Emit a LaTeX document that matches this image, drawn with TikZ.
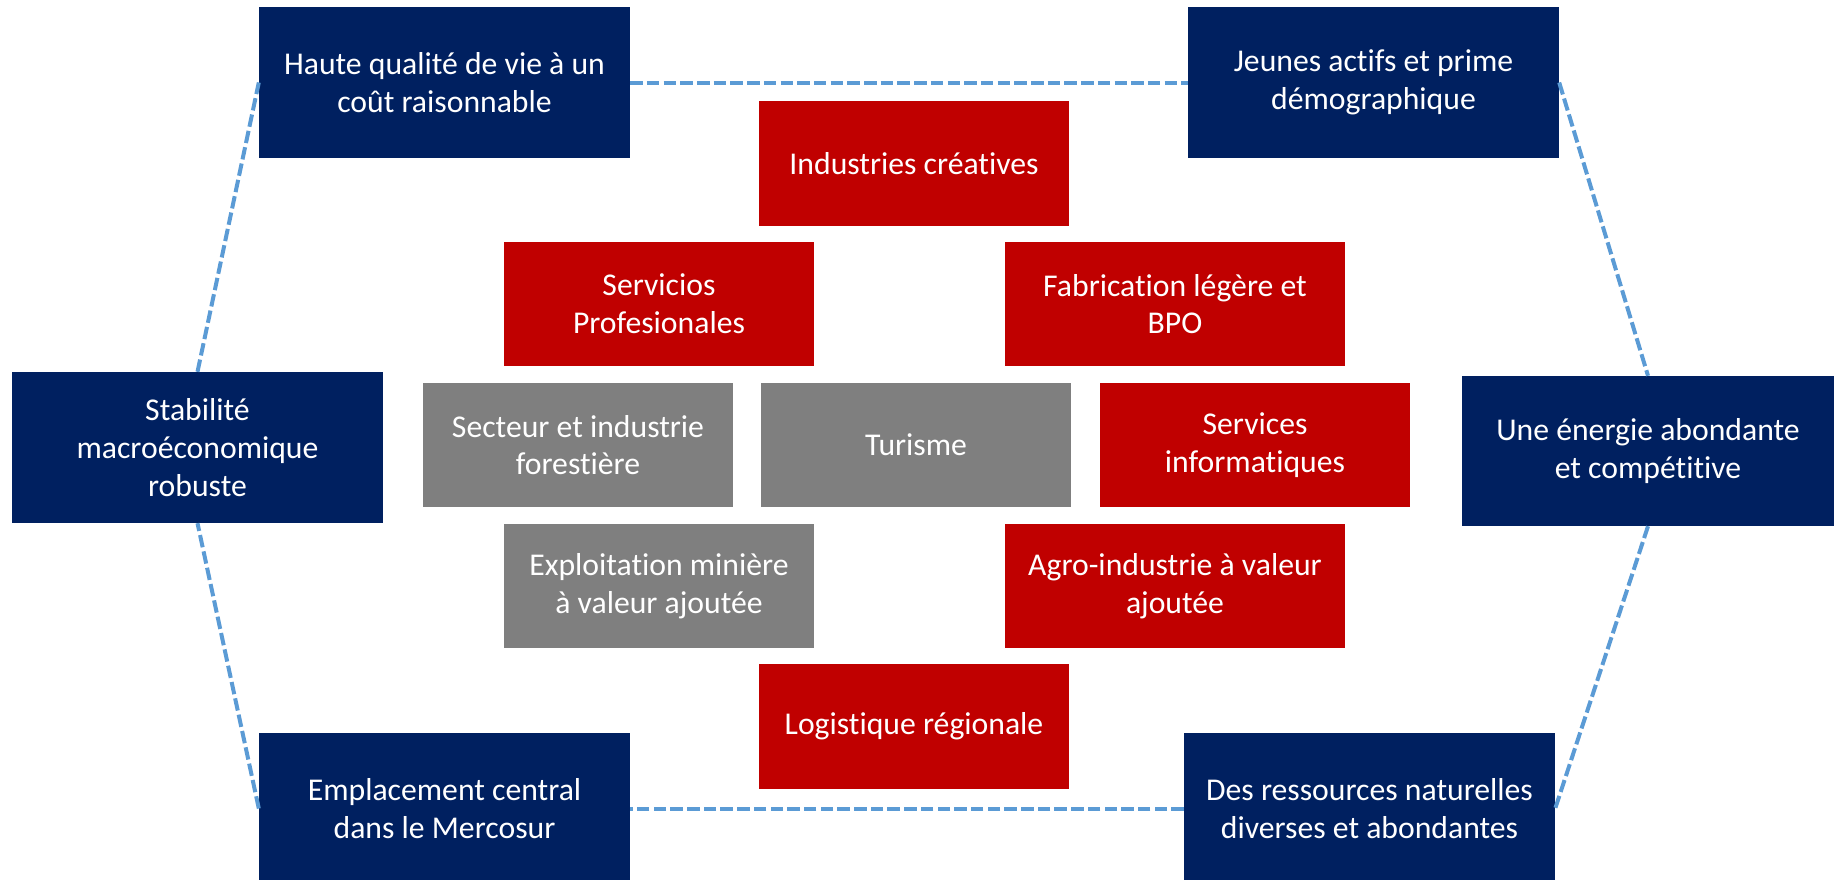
\documentclass[tikz,border=0pt]{standalone}
\usepackage{fontspec}
\setmainfont{Carlito}[RawFeature={-liga;-clig;-calt;-dlig;-rlig}]
\definecolor{navybox}{HTML}{002060}
\definecolor{redbox}{HTML}{C00000}
\definecolor{greybox}{HTML}{7F7F7F}
\definecolor{dashblue}{HTML}{5B9BD5}
\begin{document}
\begin{tikzpicture}[x=1pt,y=-1pt,
  box/.style={draw=none, inner sep=0pt, align=center, text=white,
    font=\fontsize{31.7}{37.7}\selectfont, minimum height=124pt, minimum width=310pt},
  navy/.style={box, fill=navybox, minimum width=371pt, minimum height=151pt},
  redb/.style={box, fill=redbox},
  greyb/.style={box, fill=greybox},
  link/.style={draw=dashblue, line width=4pt, dash pattern=on 12.5pt off 4.2pt}]
\clip (0,0) rectangle (1836,879);
\useasboundingbox (0,0) rectangle (1836,879);
% navy outer boxes
\node[navy] (hq) at (444.5,82.5) {Haute qualité de vie à un\\coût raisonnable};
\node[navy] (ja) at (1373.5,82.5) {Jeunes actifs et prime\\démographique};
\node[navy] (st) at (197.5,447.5) {Stabilité\\macroéconomique\\robuste};
\node[navy, minimum width=372pt, minimum height=150pt] (en) at (1648,451) {Une énergie abondante\\et compétitive};
\node[navy] (em) at (444.5,808.5) {Emplacement central\\dans le Mercosur};
\node[navy] (dr) at (1369.5,808.5) {Des ressources naturelles\\diverses et abondantes};
% inner boxes
\node[redb, minimum height=125pt] (ic) at (914,163.5) {Industries créatives};
\node[redb] (sp) at (659,304) {Servicios\\Profesionales};
\node[redb, minimum width=340pt] (fb) at (1175,304) {Fabrication légère et\\BPO};
\node[greyb] (se) at (578,445) {Secteur et industrie\\forestière};
\node[greyb] (tu) at (916,445) {Turisme};
\node[redb] (si) at (1255,445) {Services\\informatiques};
\node[greyb] (ex) at (659,586) {Exploitation minière\\à valeur ajoutée};
\node[redb, minimum width=340pt] (ag) at (1175,586) {Agro-industrie à valeur\\ajoutée};
\node[redb, minimum height=125pt] (lo) at (914,726.5) {Logistique régionale};
% dashed hexagon
\draw[link] (hq.east) -- (ja.west);
\draw[link] (ja.east) -- (en.north);
\draw[link] (en.south) -- (dr.east);
\draw[link] (dr.west) -- (em.east);
\draw[link] (em.west) -- (st.south);
\draw[link] (st.north) -- (hq.west);
\end{tikzpicture}
\end{document}
